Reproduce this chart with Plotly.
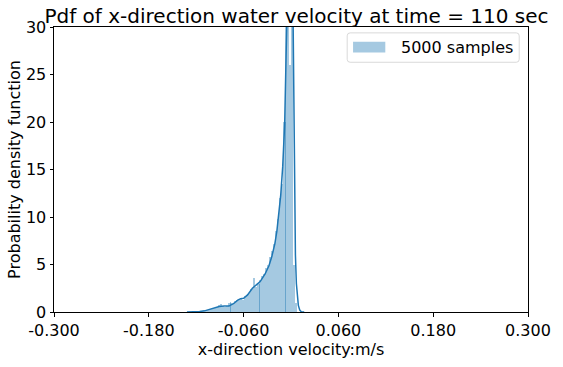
import numpy as np
import plotly.graph_objects as go

# ---------------- data ----------------
title_text = "Pdf of x-direction water velocity at time = 110 sec"
x_label = "x-direction velocity:m/s"
y_label = "Probability density function"
legend_label = "5000 samples"

x_tick_vals = [-0.3, -0.18, -0.06, 0.06, 0.18, 0.3]
x_tick_text = ["-0.300", "-0.180", "-0.060", "0.060", "0.180", "0.300"]
y_tick_vals = [0, 5, 10, 15, 20, 25, 30]
y_tick_text = ["0", "5", "10", "15", "20", "25", "30"]

# histogram (density), bins of width 0.0025 starting at -0.125
bin_start = -0.125
bin_width = 0.0025
hist_density = [
    0.0, 0.02, 0.04, 0.05, 0.1, 0.1, 0.15, 0.2, 0.25, 0.35,
    0.4, 0.45, 0.5, 0.7, 0.8, 0.6, 0.55, 0.6, 0.9, 1.0,
    0.8, 1.2, 1.3, 1.4, 1.5, 1.3, 1.7, 1.8, 2.0, 2.4,
    2.5, 3.6, 2.6, 3.1, 3.4, 3.8, 4.0, 4.6, 5.0, 5.8,
    6.4, 7.2, 8.5, 9.8, 12.0, 13.5, 20.0, 38.0, 38.0, 26.0,
    34.0, 5.0, 1.0,
]

# thin darker edge lines visible inside the histogram
edge_x = [-0.0760, -0.0401, -0.0066]
edge_h = [1.1, 3.0, 20.0]

# kernel density estimate curve
kde_x = [-0.1317, -0.1218, -0.1157, -0.1095, -0.1033, -0.0971, -0.0909, -0.0847,
         -0.0785, -0.0724, -0.0674, -0.0637, -0.0600, -0.0550, -0.0489, -0.0439,
         -0.0390, -0.0328, -0.0278, -0.0241, -0.0204, -0.0179, -0.0155, -0.0130,
         -0.0105, -0.0080, -0.0062, -0.0050, -0.0031, -0.0012, 0.0006, 0.0025,
         0.0037, 0.0043, 0.0056, 0.0068, 0.0080, 0.0093, 0.0111, 0.0130, 0.0167]
kde_y = [0.0, 0.0, 0.05, 0.12, 0.25, 0.42, 0.58, 0.62,
         0.62, 0.9, 1.25, 1.4, 1.45, 1.8, 2.5, 2.85,
         3.2, 4.0, 4.9, 5.9, 7.2, 8.5, 10.1, 12.3,
         15.3, 19.8, 27.0, 34.0, 42.0, 45.0, 42.0, 32.0,
         20.0, 13.0, 6.0, 3.0, 1.5, 0.7, 0.2, 0.03, 0.0]

# ---------------- figure ----------------
bin_centers = bin_start + bin_width * (np.arange(len(hist_density)) + 0.5)

BLUE = "#1f77b4"
BAR = "rgba(31,119,180,0.4)"
FONT = "DejaVu Sans"

fig = go.Figure()
fig.add_trace(go.Bar(x=bin_centers, y=hist_density, width=bin_width,
                     marker=dict(color=BAR, line=dict(width=0)),
                     showlegend=False, hoverinfo="skip"))
fig.add_trace(go.Bar(x=edge_x, y=edge_h, width=0.0012,
                     marker=dict(color="rgba(31,119,180,0.45)", line=dict(width=0)),
                     showlegend=False, hoverinfo="skip"))
fig.add_trace(go.Scatter(x=kde_x, y=kde_y, mode="lines",
                         line=dict(color=BLUE, width=1.5),
                         showlegend=False, hoverinfo="skip"))

W, H = 563, 367
L, R, T, B = 54, 24, 27, 49
pw, ph = W - L - R, H - T - B

def px2paper_x(px):
    return (px - L) / pw

def px2paper_y(py):
    return (H - B - py) / ph

axis_common = dict(
    showline=True, linecolor="black", linewidth=1, mirror=True,
    ticks="outside", ticklen=3.5, tickwidth=1, tickcolor="black",
    showgrid=False, zeroline=False,
    tickfont=dict(family=FONT, size=16, color="black"),
)

fig.update_layout(
    width=W, height=H,
    margin=dict(l=L, r=R, t=T, b=B),
    paper_bgcolor="white", plot_bgcolor="white",
    barmode="overlay", bargap=0,
    font=dict(family=FONT, size=16, color="black"),
    title=dict(text=title_text, font=dict(family=FONT, size=20, color="black"),
               x=(L + pw / 2) / W, xanchor="center", xref="container",
               y=1 - 16 / H, yanchor="middle", yref="container"),
    xaxis=dict(range=[-0.3, 0.3], tickvals=x_tick_vals, ticktext=x_tick_text,
               title=dict(text=x_label, font=dict(family=FONT, size=16, color="black"),
                          standoff=4),
               **axis_common),
    yaxis=dict(range=[0, 30], tickvals=y_tick_vals, ticktext=y_tick_text,
               title=dict(text=y_label, font=dict(family=FONT, size=16, color="black"),
                          standoff=1),
               **axis_common),
)

# manual legend (matplotlib style)
lx0, lx1 = px2paper_x(354), px2paper_x(530)
ly0, ly1 = px2paper_y(63), px2paper_y(33)
rx, ry = 3 / pw, 3 / ph
path = (f"M {lx0+rx},{ly1} L {lx1-rx},{ly1} Q {lx1},{ly1} {lx1},{ly1-ry} "
        f"L {lx1},{ly0+ry} Q {lx1},{ly0} {lx1-rx},{ly0} "
        f"L {lx0+rx},{ly0} Q {lx0},{ly0} {lx0},{ly0+ry} "
        f"L {lx0},{ly1-ry} Q {lx0},{ly1} {lx0+rx},{ly1} Z")
fig.add_shape(type="path", path=path, xref="paper", yref="paper",
              line=dict(color="#d9d9d9", width=1), fillcolor="rgba(255,255,255,0.8)")
fig.add_shape(type="rect", xref="paper", yref="paper",
              x0=px2paper_x(360), x1=px2paper_x(393),
              y0=px2paper_y(53), y1=px2paper_y(42),
              line=dict(width=0), fillcolor=BAR)
fig.add_annotation(text=legend_label, xref="paper", yref="paper",
                   x=px2paper_x(407), y=px2paper_y(47.5),
                   xanchor="left", yanchor="middle", showarrow=False,
                   font=dict(family=FONT, size=16, color="black"))

fig.write_html("out.html")
